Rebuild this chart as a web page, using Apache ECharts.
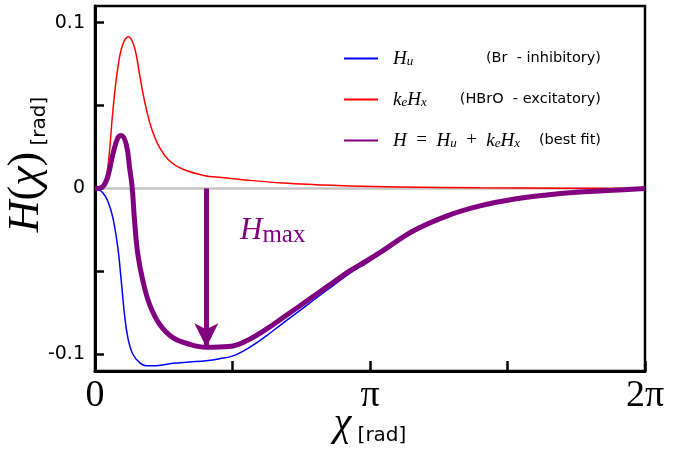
<!DOCTYPE html>
<html>
<head>
<meta charset="utf-8">
<script src="https://cdn.jsdelivr.net/npm/echarts@6/dist/echarts.min.js"></script>
<style>
  html, body { margin: 0; padding: 0; background: #fff; }
  #chart { width: 681px; height: 449px; }
</style>
</head>
<body>
<div id="chart"></div>
<script>
const PI = Math.PI;

// Inhibitory contribution H_u (Br-)
const chiHu = [0, 0.032, 0.089, 0.146, 0.204, 0.261, 0.300, 0.337, 0.375, 0.432, 0.509, 0.585, 0.700, 0.890, 1.081, 1.272, 1.424, 1.576, 1.767, 1.958, 2.148, 2.339, 2.529, 2.719, 2.910, 3.101, 3.253, 3.634, 4.016, 4.397, 4.778, 5.159, 5.540, 5.921, 6.283];
const valHu = [0, -0.0005, -0.0025, -0.0075, -0.0176, -0.0357, -0.0557, -0.0758, -0.0899, -0.0999, -0.1049, -0.1069, -0.1068, -0.1054, -0.1046, -0.1038, -0.1026, -0.1009, -0.0957, -0.0888, -0.0811, -0.0736, -0.0660, -0.0586, -0.0512, -0.0449, -0.0397, -0.0264, -0.0172, -0.0109, -0.0068, -0.0041, -0.0023, -0.0012, 0];

// Excitatory contribution k_e H_x (HBrO)
const chiKeHx = [0, 0.051, 0.089, 0.128, 0.166, 0.204, 0.261, 0.318, 0.383, 0.452, 0.509, 0.566, 0.643, 0.738, 0.852, 1.004, 1.272, 1.386, 1.767, 2.148, 2.529, 2.910, 3.482, 4.397, 5.310, 6.283];
const valKeHx = [0, 0.0003, 0.0015, 0.0065, 0.0226, 0.0467, 0.0728, 0.0869, 0.0914, 0.0848, 0.0688, 0.0527, 0.0366, 0.0246, 0.0166, 0.0116, 0.0075, 0.0069, 0.0049, 0.0033, 0.0023, 0.0015, 0.0009, 0.0004, 0.0002, 0];

// Total coupling function H = H_u + k_e H_x (best fit)
const chiH = [0, 0.051, 0.128, 0.204, 0.261, 0.300, 0.357, 0.395, 0.425, 0.452, 0.489, 0.547, 0.623, 0.738, 0.890, 1.081, 1.272, 1.424, 1.576, 1.767, 1.958, 2.148, 2.339, 2.529, 2.719, 2.910, 3.101, 3.253, 3.634, 4.016, 4.397, 4.778, 5.159, 5.540, 5.921, 6.283];
const valH = [0, 0.0001, 0.0045, 0.0206, 0.0306, 0.0320, 0.0266, 0.0125, 0.0005, -0.0196, -0.0396, -0.0557, -0.0698, -0.0818, -0.0899, -0.0939, -0.0957, -0.0955, -0.0949, -0.0908, -0.0848, -0.0778, -0.0708, -0.0637, -0.0567, -0.0497, -0.0437, -0.0387, -0.0256, -0.0166, -0.0105, -0.0065, -0.0039, -0.0021, -0.0011, 0];

// Axis ticks and labels
const xTicks = [0, PI / 2, PI, 3 * PI / 2, 2 * PI];
const xLabelValues = [0, PI, 2 * PI];
const xLabelTexts = ['0', 'π', '2π'];
const yTicks = [-0.1, -0.05, 0, 0.05, 0.1];
const yLabelValues = [-0.1, 0, 0.1];
const yLabelTexts = ['-0.1', '0', '0.1'];

const zip = (xs, ys) => xs.map((x, i) => [x, ys[i]]);

// location of the deepest point of H, marked by the arrow
let iMin = 0;
valH.forEach((v, i) => { if (v < valH[iMin]) iMin = i; });
const chiMin = chiH[iMin];
const hMin = valH[iMin];

const SERIF = 'Liberation Serif';
const SANS = 'DejaVu Sans';
const PURPLE = '#800080';
const EN = '\u2002';

const legendText = {
  Hu: '{g| }{mi|H}{sb|u}{d|(Br  - inhibitory)}',
  keHx: '{g| }{mi|k}{sb|e}{mi|H}{sb|x}{d|(HBrO  - excitatory)}',
  H: `{g| }{mi|H}{mr|${EN}=${EN}}{mi|H}{sb|u}{mr|${EN}+${EN}}{mi|k}{sb|e}{mi|H}{sb|x}{d|(best fit)}`
};

const chart = echarts.init(document.getElementById('chart'), null, { renderer: 'canvas' });

chart.setOption({
  animation: false,
  backgroundColor: '#fff',
  grid: {
    left: 95, right: 36, top: 6, bottom: 78,
    containLabel: false,
    outerBoundsMode: 'none',
    show: true, borderColor: '#000', borderWidth: 2.5, backgroundColor: 'transparent'
  },
  legend: {
    data: ['Hu', 'keHx', 'H'],
    orient: 'vertical',
    left: 343,
    top: 49,
    padding: 0,
    itemWidth: 34,
    itemHeight: 14,
    itemGap: 21.5,
    selectedMode: false,
    itemStyle: { opacity: 0 },
    formatter: name => legendText[name],
    textStyle: {
      width: 218,
      color: '#000',
      rich: {
        g: { width: 10, fontSize: 10 },
        mi: { fontFamily: SERIF, fontStyle: 'italic', fontSize: 19, lineHeight: 20, color: '#000' },
        mr: { fontFamily: SERIF, fontSize: 19, lineHeight: 20, color: '#000' },
        sb: { fontFamily: SERIF, fontStyle: 'italic', fontSize: 13, lineHeight: 12, verticalAlign: 'bottom', color: '#000' },
        d: { fontFamily: SANS, fontSize: 14.5, lineHeight: 20, align: 'right', color: '#000' }
      }
    }
  },
  xAxis: {
    type: 'value',
    min: 0,
    max: 2 * PI,
    axisLine: { onZero: false, lineStyle: { color: '#000', width: 3 } },
    axisTick: { inside: true, length: 10, customValues: xTicks, lineStyle: { color: '#000', width: 2.5 } },
    splitLine: { show: false },
    axisLabel: {
      customValues: xLabelValues,
      margin: 6,
      color: '#000',
      fontFamily: SERIF,
      fontSize: 38,
      formatter: v => {
        const i = xLabelValues.findIndex(t => Math.abs(t - v) < 1e-6);
        return i >= 0 ? xLabelTexts[i] : '';
      }
    },
    name: '{xi|χ}{ra| [rad]}',
    nameLocation: 'middle',
    nameGap: 31,
    nameMoveOverlap: false,
    nameTextStyle: {
      rich: {
        xi: { fontFamily: SERIF, fontStyle: 'italic', fontSize: 40, lineHeight: 44, color: '#000' },
        ra: { fontFamily: SANS, fontSize: 20, lineHeight: 30, verticalAlign: 'bottom', color: '#000' }
      }
    }
  },
  yAxis: {
    type: 'value',
    min: -0.110,
    max: 0.110,
    axisLine: { onZero: false, lineStyle: { color: '#000', width: 3 } },
    axisTick: { inside: true, length: 9, customValues: yTicks, lineStyle: { color: '#000', width: 2.5 } },
    splitLine: { show: false },
    axisLabel: {
      customValues: yLabelValues,
      margin: 10,
      color: '#000',
      fontFamily: SANS,
      fontSize: 19,
      formatter: v => {
        const i = yLabelValues.findIndex(t => Math.abs(t - v) < 1e-9);
        return i >= 0 ? yLabelTexts[i] : '';
      }
    },
    name: '{hi|H}{hr|(}{hi|χ}{hr|)}{ra| [rad]}',
    nameLocation: 'middle',
    nameGap: 45,
    nameRotate: 90,
    nameMoveOverlap: false,
    nameTextStyle: {
      padding: [0, 0, 0, 48],
      rich: {
        hi: { fontFamily: SERIF, fontStyle: 'italic', fontSize: 44, lineHeight: 48, color: '#000' },
        hr: { fontFamily: SERIF, fontSize: 44, lineHeight: 48, color: '#000' },
        ra: { fontFamily: SANS, fontSize: 20, lineHeight: 32, verticalAlign: 'bottom', color: '#000' }
      }
    }
  },
  series: [
    {
      name: 'zero',
      type: 'line',
      data: [[0, 0], [2 * PI, 0]],
      symbol: 'none',
      silent: true,
      z: 1,
      lineStyle: { color: '#c4c4c4', width: 2.5 }
    },
    {
      name: 'Hu',
      type: 'line',
      data: zip(chiHu, valHu),
      symbol: 'none',
      smooth: 0.4,
      z: 2,
      color: '#0000ff',
      lineStyle: { color: '#0000ff', width: 1.5 }
    },
    {
      name: 'keHx',
      type: 'line',
      data: zip(chiKeHx, valKeHx),
      symbol: 'none',
      smooth: 0.4,
      z: 3,
      color: '#ff0000',
      lineStyle: { color: '#ff0000', width: 1.5 }
    },
    {
      name: 'H',
      type: 'line',
      data: zip(chiH, valH),
      symbol: 'none',
      smooth: 0.4,
      z: 4,
      color: PURPLE,
      lineStyle: { color: PURPLE, width: 5 },
      markLine: {
        silent: true,
        symbol: ['none', 'arrow'],
        symbolSize: [18, 24],
        label: { show: false },
        lineStyle: { color: PURPLE, width: 5, type: 'solid' },
        itemStyle: { color: PURPLE },
        data: [[{ coord: [chiMin, 0] }, { coord: [chiMin, hMin] }]]
      }
    }
  ],
  graphic: [
    {
      type: 'text',
      left: 240,
      top: 215,
      style: {
        text: '{hi|H}{sub|max}',
        rich: {
          hi: { fontFamily: SERIF, fontStyle: 'italic', fontSize: 31, lineHeight: 35, fill: PURPLE },
          sub: { fontFamily: SERIF, fontSize: 25, lineHeight: 22, verticalAlign: 'bottom', fill: PURPLE }
        }
      }
    }
  ]
});
</script>
</body>
</html>
